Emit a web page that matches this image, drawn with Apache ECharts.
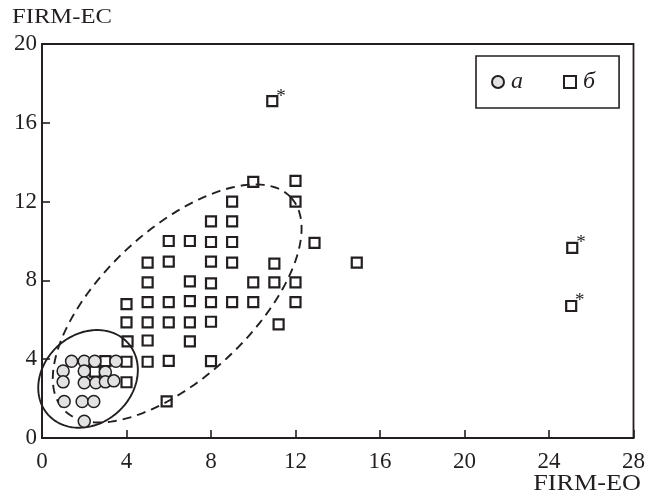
<!DOCTYPE html>
<html><head><meta charset="utf-8">
<script src="https://cdn.jsdelivr.net/npm/echarts@6/dist/echarts.min.js"></script>
<style>html,body{margin:0;padding:0;background:#fff}#c{width:648px;height:499px}</style>
</head><body><div id="c"></div>
<script>
// ---- data ----
const seriesNames = ['а', 'б'];
const xAxisName = 'FIRM-EO';
const yAxisName = 'FIRM-EC';
// group "а" (circles)
const groupA = [
  [1.4,3.9],[2,3.9],[2.5,3.9],[3.5,3.9],
  [1,3.4],[2,3.4],[3,3.35],
  [1,2.85],[2,2.8],[2.55,2.8],[3,2.85],[3.4,2.9],
  [1.05,1.85],[1.9,1.85],[2.45,1.85],
  [2,0.85]
];
// group "б" (squares)
const groupB = [
  [10,13],[12,13.05],
  [9,12],[12,12],
  [8,11],[9,11],
  [6,10],[7,10],[8,9.95],[9,9.95],[12.9,9.9],
  [5,8.9],[6,8.95],[8,8.95],[9,8.9],[11,8.85],[14.9,8.9],
  [5,7.9],[7,7.95],[8,7.85],[10,7.9],[11,7.9],[12,7.9],
  [4,6.8],[5,6.9],[6,6.9],[7,6.95],[8,6.9],[9,6.9],[10,6.9],[12,6.9],
  [4,5.87],[5,5.87],[6,5.87],[7,5.87],[8,5.9],[11.2,5.77],
  [4.05,4.9],[5,4.95],[7,4.9],
  [3,3.9],[4,3.87],[5,3.87],[6,3.92],[8,3.9],
  [4,2.83],[2.5,3.37],
  [5.9,1.86]
];
// marked (*) points of group "б"
const outliers = [[10.9,17.1],[25.1,9.65],[25.05,6.7]];
// ellipses: centerX, centerY, semi-major, semi-minor (x units), angle deg, dashed
const ellipses = [
  [6.4,6.83,7.36,3.5,43,1],
  [2.18,3.0,2.54,2.11,42,0]
];

const INK = '#231f20';
const FONT = '"Liberation Serif","DejaVu Serif",serif';

const chart = echarts.init(document.getElementById('c'), null, {renderer:'canvas'});

function renderEllipse(params, api) {
  const c = api.coord([api.value(0), api.value(1)]);
  const unit = api.size([1, 0])[0];
  const a = api.value(2) * unit, b = api.value(3) * unit;
  const th = api.value(4) * Math.PI / 180;
  const pts = [];
  const N = 180;
  for (let i = 0; i < N; i++) {
    const t = i / N * Math.PI * 2;
    const ca = a * Math.cos(t), sb = b * Math.sin(t);
    pts.push([c[0] + ca * Math.cos(th) + sb * Math.sin(th),
              c[1] - ca * Math.sin(th) + sb * Math.cos(th)]);
  }
  return {
    type: 'polygon',
    shape: { points: pts },
    style: { fill: 'none', stroke: INK, lineWidth: 1.9,
             lineDash: api.value(5) ? [9, 6] : null }
  };
}

const option = {
  animation: false,
  backgroundColor: '#fff',
  grid: { left: 42, right: 13, top: 44, bottom: 61, show: true,
          borderColor: INK, borderWidth: 1.8, backgroundColor: 'transparent' },
  xAxis: {
    type: 'value', min: 0, max: 28, interval: 4,
    axisLine: { show: true, onZero: false, lineStyle: { color: INK, width: 1.8 } },
    axisTick: { show: true, inside: true, length: 8, lineStyle: { color: INK, width: 1.6 } },
    axisLabel: { color: INK, fontFamily: FONT, fontSize: 23, margin: 12 },
    splitLine: { show: false }
  },
  yAxis: {
    type: 'value', min: 0, max: 20, interval: 4,
    axisLine: { show: true, onZero: false, lineStyle: { color: INK, width: 1.8 } },
    axisTick: { show: true, inside: true, length: 8, lineStyle: { color: INK, width: 1.6 } },
    axisLabel: { color: INK, fontFamily: FONT, fontSize: 23, margin: 5 },
    splitLine: { show: false }
  },
  legend: {
    left: 476, top: 56,
    orient: 'horizontal',
    data: seriesNames,
    itemWidth: 12, itemHeight: 12, itemGap: 40,
    padding: [14, 24, 14, 15],
    borderColor: INK, borderWidth: 1.6,
    textStyle: { fontFamily: FONT, fontSize: 24, fontStyle: 'italic', color: INK, padding: [0,0,0,2] }
  },
  graphic: [
    { type: 'text', x: 12, y: 17, scaleX: 1.12,
      style: { text: yAxisName, font: '22px ' + FONT, fill: INK,
               textAlign: 'left', textVerticalAlign: 'middle' } },
    { type: 'text', x: 641, y: 484, scaleX: 1.14,
      style: { text: xAxisName, font: '23px ' + FONT, fill: INK,
               textAlign: 'right', textVerticalAlign: 'middle' } }
  ],
  series: [
    {
      name: seriesNames[1], type: 'scatter', symbol: 'rect', symbolSize: 10, z: 2,
      itemStyle: { color: '#fff', borderColor: INK, borderWidth: 2.2, opacity: 1 },
      data: groupB.concat(outliers.map(p => ({
        value: p,
        label: { show: true, formatter: '*', position: [10, -8],
                 fontFamily: FONT, fontSize: 19, color: INK }
      })))
    },
    {
      type: 'custom', z: 3, silent: true,
      renderItem: renderEllipse,
      data: ellipses
    },
    {
      name: seriesNames[0], type: 'scatter', symbol: 'circle', symbolSize: 12, z: 4,
      itemStyle: { color: '#e2e2e2', borderColor: INK, borderWidth: 1.5, opacity: 1 },
      data: groupA
    }
  ]
};
chart.setOption(option);
</script>
</body></html>
